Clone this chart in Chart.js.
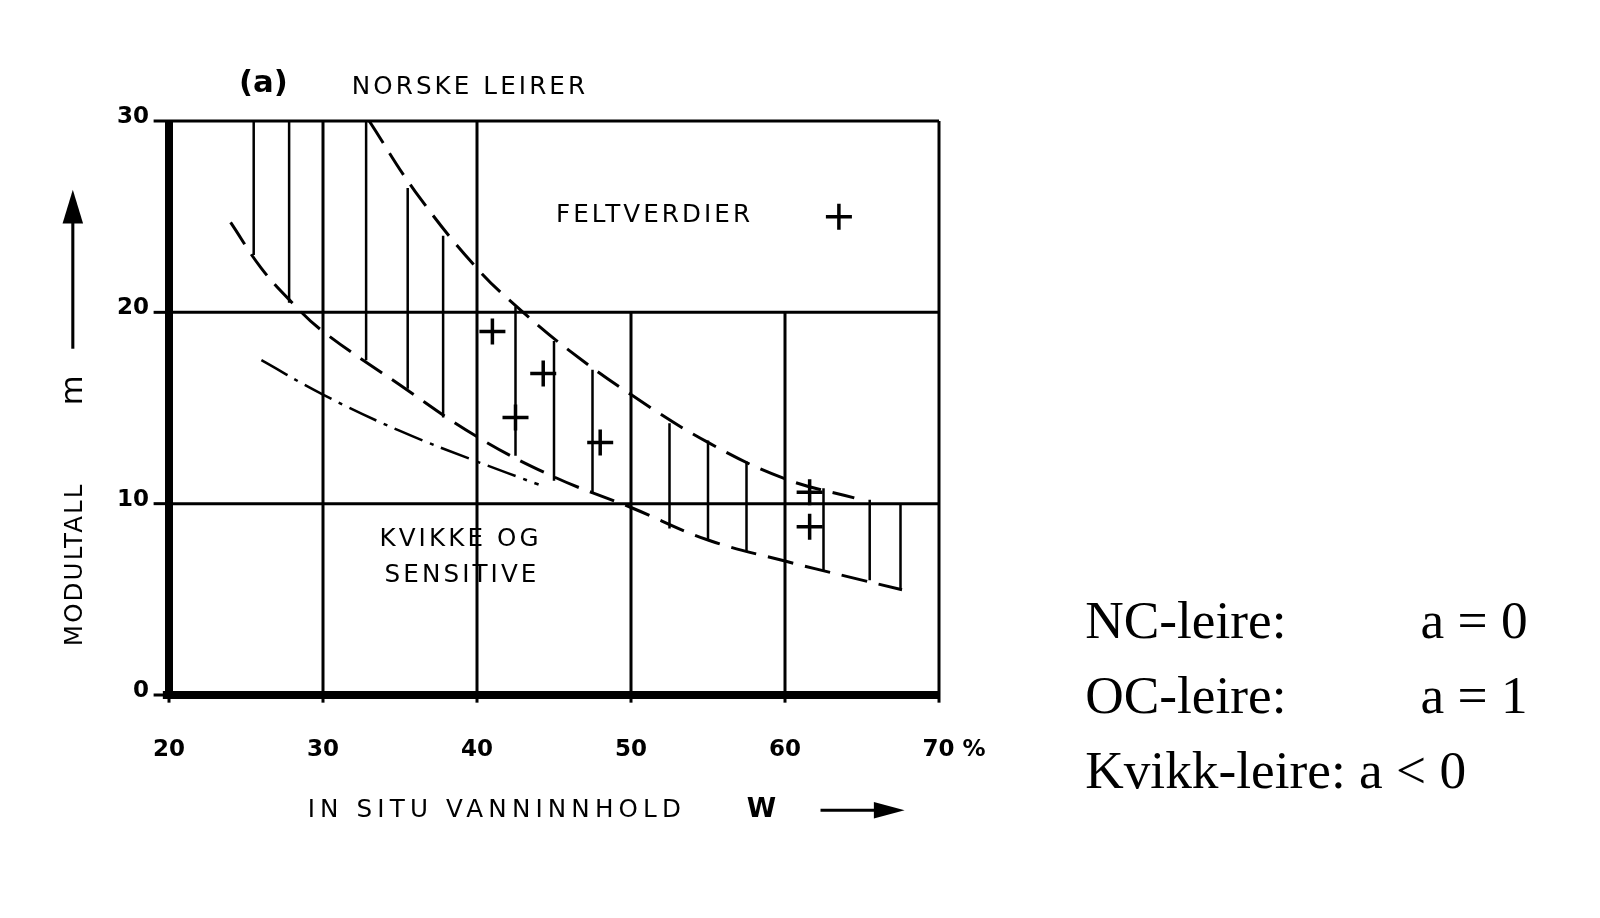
<!DOCTYPE html>
<html><head><meta charset="utf-8">
<script src="https://cdn.jsdelivr.net/npm/chart.js@4"></script>
<style>html,body{margin:0;background:#fff}#wrap{width:1600px;height:918px;position:relative}</style>
</head><body><div id="wrap"><canvas id="c"></canvas></div>
<script>
const xTicks = [20, 30, 40, 50, 60, 70];
const yTicks = [0, 10, 20, 30];

const upperX = [33, 36, 40, 43, 46, 50, 55, 60, 64.5];
const upperY = [30, 26.3, 22.3, 20, 18, 15.7, 13.2, 11.3, 10.3];
const lowerX = [24, 26, 28, 30, 35, 40, 45, 50, 55, 60, 64, 67.6];
const lowerY = [24.7, 22.3, 20.5, 19, 16.2, 13.5, 11.4, 9.8, 8.1, 7, 6.2, 5.5];
const dashDotX = [26, 30, 35, 40, 44];
const dashDotY = [17.5, 15.7, 13.8, 12.2, 11];

const hatchX = [25.5, 27.8, 32.8, 35.5, 37.8, 42.5, 45, 47.5, 52.5, 55, 57.5, 62.5, 65.5, 67.5];
const hatchLo = [23, 20.5, 17.5, 16, 14.5, 12.5, 11.2, 10.5, 8.7, 8.1, 7.5, 6.5, 6, 5.5];
const hatchHi = [30, 30, 30, 26.5, 24, 20.3, 18.5, 17, 14.2, 13.3, 12.2, 10.8, 10.2, 10];

const fieldX = [41, 42.5, 44.3, 48, 61.6, 61.6, 63.5];
const fieldY = [19, 14.5, 16.8, 13.2, 10.6, 8.8, 25];

const pts = (xs, ys) => xs.map((x, i) => ({ x, y: ys[i] }));
const hatchData = [];
hatchX.forEach((x, i) => { hatchData.push({ x, y: hatchLo[i] }, { x, y: hatchHi[i] }, { x, y: null }); });

const sans = '"DejaVu Sans", sans-serif';
const S = 1600 / 1560;

const overlay = {
  id: 'overlay',
  beforeDatasetsDraw(chart) {
    const { ctx } = chart;
    const sx = chart.scales.x, sy = chart.scales.y;
    const X = v => sx.getPixelForValue(v), Y = v => sy.getPixelForValue(v);
    ctx.save();
    ctx.strokeStyle = '#000';
    ctx.lineWidth = 3;
    const seg = (x1, y1, x2, y2) => { ctx.beginPath(); ctx.moveTo(X(x1), Y(y1)); ctx.lineTo(X(x2), Y(y2)); ctx.stroke(); };
    seg(20, 10, 70, 10); seg(20, 20, 70, 20); seg(20, 30, 70, 30);
    seg(30, 0, 30, 30); seg(40, 0, 40, 30); seg(50, 0, 50, 20); seg(60, 0, 60, 20); seg(70, 0, 70, 30);
    ctx.lineWidth = 8;
    seg(20, -0.2, 20, 30); seg(19.6, 0, 70, 0);
    ctx.lineWidth = 3;
    yTicks.forEach(v => seg(19, v, 20, v));
    xTicks.forEach(v => seg(v, 0, v, -0.4));
    ctx.fillStyle = '#000';
    ctx.font = 'bold 23px ' + sans;
    ctx.textAlign = 'right'; ctx.textBaseline = 'middle';
    yTicks.forEach(v => ctx.fillText(String(v), X(18.7), Y(v) - 4));
    ctx.textAlign = 'center'; ctx.textBaseline = 'top';
    xTicks.forEach(v => ctx.fillText(v === 70 ? '70 %' : String(v), X(v) + (v === 70 ? 15 : 0), Y(-2.3)));
    ctx.textAlign = 'left'; ctx.textBaseline = 'alphabetic';
    ctx.save();
    ctx.scale(S, S);
    ctx.font = 'bold 30px ' + sans; ctx.fillText('(a)', 233, 90);
    ctx.font = '24px ' + sans;
    ctx.letterSpacing = '3px';
    ctx.fillText('NORSKE LEIRER', 343, 92);
    ctx.fillText('FELTVERDIER', 542, 216);
    ctx.fillText('KVIKKE OG', 370, 532);
    ctx.fillText('SENSITIVE', 375, 567);
    ctx.letterSpacing = '5px';
    ctx.fillText('IN SITU VANNINNHOLD', 300, 797);
    ctx.letterSpacing = '0px';
    ctx.font = 'bold 26px ' + sans; ctx.fillText('W', 728, 797);
    ctx.lineWidth = 3;
    ctx.beginPath(); ctx.moveTo(800, 790); ctx.lineTo(860, 790); ctx.stroke();
    ctx.beginPath(); ctx.moveTo(882, 790); ctx.lineTo(852, 782); ctx.lineTo(852, 798); ctx.closePath(); ctx.fill();
    ctx.save();
    ctx.translate(80, 630); ctx.rotate(-Math.PI / 2);
    ctx.font = '24px ' + sans; ctx.letterSpacing = '2px'; ctx.fillText('MODULTALL', 0, 0);
    ctx.letterSpacing = '0px';
    ctx.font = '30px ' + sans; ctx.fillText('m', 235, 0);
    ctx.beginPath(); ctx.moveTo(290, -9); ctx.lineTo(420, -9); ctx.stroke();
    ctx.beginPath(); ctx.moveTo(445, -9); ctx.lineTo(412, -19); ctx.lineTo(412, 1); ctx.closePath(); ctx.fill();
    ctx.restore();
    ctx.font = '52px "Liberation Serif", serif';
    ctx.fillText('NC-leire:', 1058, 622); ctx.fillText('a = 0', 1385, 622);
    ctx.fillText('OC-leire:', 1058, 695); ctx.fillText('a = 1', 1385, 695);
    ctx.fillText('Kvikk-leire: a < 0', 1058, 768);
    ctx.restore();
    ctx.restore();
  }
};

new Chart(document.getElementById('c'), {
  type: 'scatter',
  data: {
    datasets: [
      { type: 'line', data: pts(upperX, upperY), borderColor: '#000', borderWidth: 3, borderDash: [26, 12], tension: 0.4, pointRadius: 0, fill: false },
      { type: 'line', data: pts(lowerX, lowerY), borderColor: '#000', borderWidth: 3, borderDash: [26, 12], tension: 0.4, pointRadius: 0, fill: false },
      { type: 'line', data: pts(dashDotX, dashDotY), borderColor: '#000', borderWidth: 2.5, borderDash: [30, 8, 4, 8], tension: 0.4, pointRadius: 0, fill: false },
      { type: 'line', data: hatchData, borderColor: '#000', borderWidth: 2.5, spanGaps: false, pointRadius: 0, tension: 0, fill: false },
      { data: pts(fieldX, fieldY), pointStyle: 'cross', pointRadius: 13, borderColor: '#000', borderWidth: 3.5 }
    ]
  },
  options: {
    responsive: true,
    maintainAspectRatio: false,
    animation: false,
    layout: { padding: { left: 169, right: 661, top: 121, bottom: 223 } },
    plugins: { legend: { display: false }, tooltip: { enabled: false } },
    scales: {
      x: { type: 'linear', min: 20, max: 70, display: false },
      y: { type: 'linear', min: 0, max: 30, display: false }
    }
  },
  plugins: [overlay]
});
</script></body></html>
